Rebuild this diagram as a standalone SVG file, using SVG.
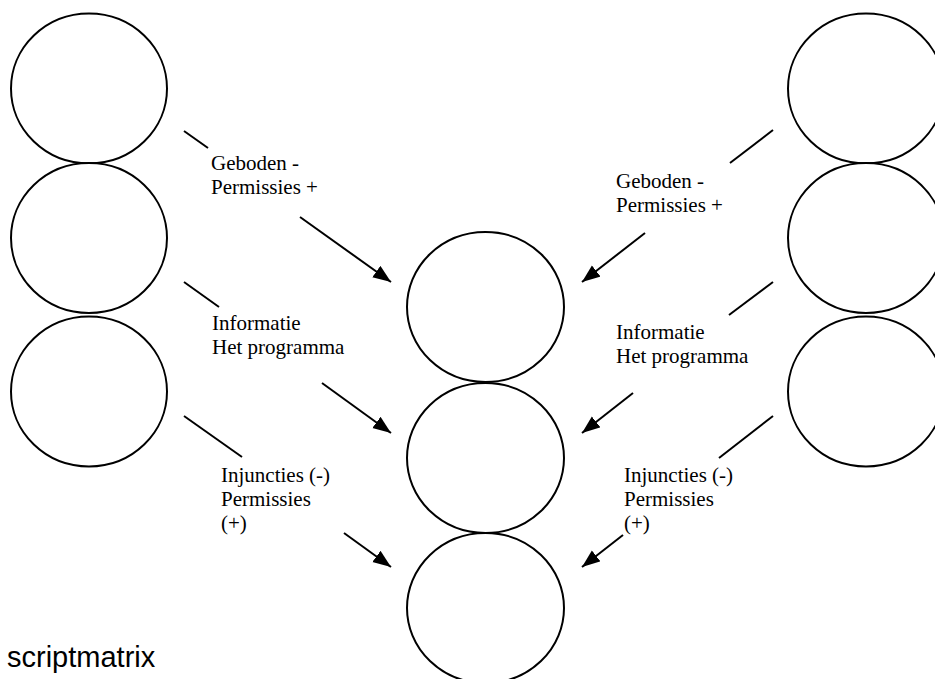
<svg xmlns="http://www.w3.org/2000/svg" width="935" height="679" viewBox="0 0 935 679">
  <style>
    .node { fill: #ffffff; stroke: #000000; stroke-width: 2; }
    .link { stroke: #000000; stroke-width: 2; fill: none; }
    .arrow { marker-end: url(#head); }
    .lbl { font-family: "Liberation Serif", "Times New Roman", serif; font-size: 21px; fill: #000000; }
    .title { font-family: "Liberation Sans", Arial, sans-serif; font-size: 29px; fill: #000000; }
  </style>
  <defs>
    <marker id="head" markerUnits="userSpaceOnUse" markerWidth="19" markerHeight="15" refX="18" refY="7" orient="auto">
      <path d="M0,0 L18,7 L0,14 Z" fill="#000000"/>
    </marker>
  </defs>
  <rect width="935" height="679" fill="#ffffff"/>

  <!-- left column -->
  <g id="left-1"><ellipse class="node" cx="89" cy="88.5" rx="78" ry="75"/></g>
  <g id="left-2"><ellipse class="node" cx="89" cy="238" rx="78" ry="75"/></g>
  <g id="left-3"><ellipse class="node" cx="89" cy="391.5" rx="78" ry="75"/></g>

  <!-- right column -->
  <g id="right-1"><ellipse class="node" cx="866" cy="88.5" rx="78" ry="75"/></g>
  <g id="right-2"><ellipse class="node" cx="866" cy="238" rx="78" ry="75"/></g>
  <g id="right-3"><ellipse class="node" cx="866" cy="391.5" rx="78" ry="75"/></g>

  <!-- centre column -->
  <g id="centre-1"><ellipse class="node" cx="485.5" cy="307" rx="78.5" ry="75"/></g>
  <g id="centre-2"><ellipse class="node" cx="485.5" cy="458" rx="78.5" ry="75"/></g>
  <g id="centre-3"><ellipse class="node" cx="485.5" cy="608" rx="78.5" ry="75"/></g>

  <!-- connectors: a short lead-in, the label, then the arrow -->
  <g id="connectors">
    <line class="link" x1="184" y1="131" x2="208" y2="148"/>
    <line class="link arrow" x1="300" y1="217" x2="391" y2="282"/>
    <line class="link" x1="184" y1="282" x2="219" y2="307"/>
    <line class="link arrow" x1="322" y1="383" x2="391" y2="433"/>
    <line class="link" x1="184" y1="416" x2="242" y2="457"/>
    <line class="link arrow" x1="344" y1="533" x2="391" y2="567"/>

    <line class="link" x1="773" y1="130" x2="730" y2="163"/>
    <line class="link arrow" x1="645" y1="233" x2="582" y2="282"/>
    <line class="link" x1="773" y1="282" x2="729" y2="315"/>
    <line class="link arrow" x1="633" y1="393" x2="582" y2="433"/>
    <line class="link" x1="773" y1="416" x2="719" y2="458"/>
    <line class="link arrow" x1="623" y1="535" x2="582" y2="567"/>
  </g>

  <!-- connector labels -->
  <g id="labels">
    <text class="lbl" x="211" y="170">Geboden -</text>
    <text class="lbl" x="211" y="194">Permissies +</text>
    <text class="lbl" x="212" y="330">Informatie</text>
    <text class="lbl" x="212" y="354">Het programma</text>
    <text class="lbl" x="221" y="482">Injuncties (-)</text>
    <text class="lbl" x="221" y="506">Permissies</text>
    <text class="lbl" x="221" y="530">(+)</text>

    <text class="lbl" x="616" y="188">Geboden -</text>
    <text class="lbl" x="616" y="212">Permissies +</text>
    <text class="lbl" x="616" y="339">Informatie</text>
    <text class="lbl" x="616" y="363">Het programma</text>
    <text class="lbl" x="624" y="482">Injuncties (-)</text>
    <text class="lbl" x="624" y="506">Permissies</text>
    <text class="lbl" x="624" y="530">(+)</text>
  </g>

  <text class="title" x="7" y="667">scriptmatrix</text>
</svg>
